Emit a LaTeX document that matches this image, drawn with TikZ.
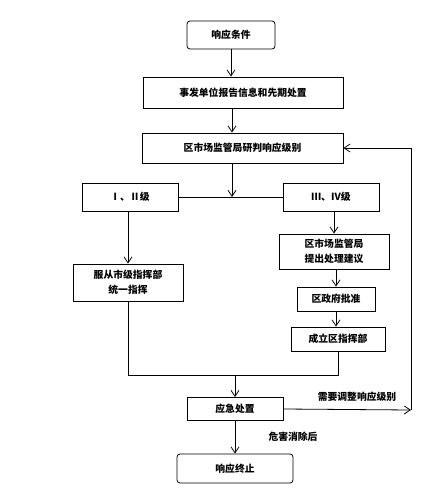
\documentclass[tikz,border=0pt]{standalone}
\usepackage{fontspec}
\newfontfamily\cjk{Noto Sans CJK SC}
\usetikzlibrary{arrows.meta}
\begin{document}
\begin{tikzpicture}[x=1pt,y=-1pt,
  box/.style={draw, line width=0.8pt, inner sep=0pt, font=\cjk\bfseries\fontsize{9.8}{15}\selectfont, align=center},
  rbox/.style={box, rounded corners=3pt},
  arr/.style={-{Straight Barb[length=6pt,width=8pt]}, line width=0.8pt},
  ln/.style={line width=0.8pt},
  lbl/.style={inner sep=0pt, font=\cjk\bfseries\fontsize{9.8}{11}\selectfont}]
\useasboundingbox[fill=white] (0,0) rectangle (443,502);
\node[rbox, minimum width=88pt, minimum height=28pt] (cond) at (231,35) {响应条件};
\node[box, minimum width=200pt, minimum height=31pt] (rep) at (243,92.5) {事发单位报告信息和先期处置};
\node[box, minimum width=201pt, minimum height=30pt] (judge) at (242.5,148) {区市场监管局研判响应级别};
\node[box, minimum width=96pt, minimum height=28pt] (l12) at (130,197) {Ⅰ、Ⅱ级};
\node[box, minimum width=96pt, minimum height=28pt] (l34) at (331,197) {Ⅲ、Ⅳ级};
\node[box, minimum width=110pt, minimum height=37pt] (obey) at (128,282.5) {服从市级指挥部\\统一指挥};
\node[box, minimum width=110pt, minimum height=35pt] (prop) at (334,251.5) {区市场监管局\\提出处理建议};
\node[box, minimum width=78pt, minimum height=24pt] (appr) at (336,299) {区政府批准};
\node[box, minimum width=94pt, minimum height=24pt] (setup) at (338,339) {成立区指挥部};
\node[box, minimum width=96pt, minimum height=23pt] (resp) at (235,409) {应急处置};
\node[rbox, minimum width=116pt, minimum height=29pt] (end) at (235,468.5) {响应终止};
\node[lbl] (t1) at (357,397) {需要调整响应级别};
\node[lbl] (t2) at (293,437) {危害消除后};
\coordinate (j) at (232,197);
\coordinate (m) at (235,375);
\coordinate (f) at (411,410);
\draw[arr] (cond.south) -- (cond.south |- rep.north);
\draw[arr] (rep.south -| j) -- (judge.north -| j);
\draw[arr] (judge.south -| j) -- (j);
\draw[ln] (l12.east) -- (l34.west);
\draw[arr] (l12.south -| obey) -- (obey.north);
\draw[arr] (l34.south -| prop) -- (prop.north);
\draw[arr] (prop.south -| appr) -- (appr.north);
\draw[arr] (appr.south) -- (appr.south |- setup.north);
\draw[ln] (obey.south) -- (obey.south |- m) -- (setup.south |- m) -- (setup.south);
\draw[arr] (m) -- (resp.north -| m);
\draw[arr] (resp.east) -- (f);
\draw[arr] (f) |- (judge.east);
\draw[arr] (resp.south) -- (end.north);
\end{tikzpicture}
\end{document}
